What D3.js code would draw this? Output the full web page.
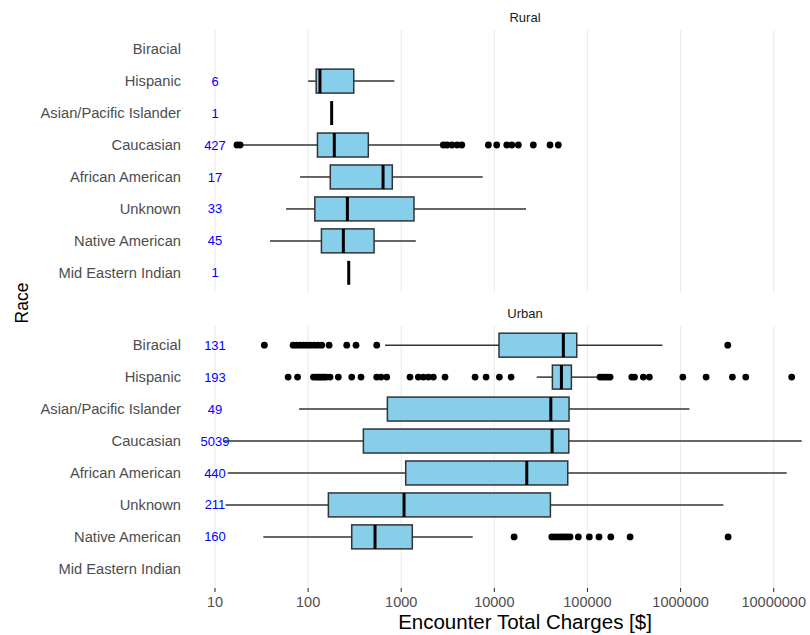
<!DOCTYPE html>
<html>
<head>
<meta charset="utf-8">
<script src="https://cdn.jsdelivr.net/npm/d3@7"></script>
<style>
  html, body { margin: 0; padding: 0; background: #ffffff; }
  svg { display: block; font-family: "Liberation Sans", Arial, Helvetica, sans-serif; }
</style>
</head>
<body>
<svg id="chart" width="810" height="635"></svg>
<script>
// ---------------- DATA ----------------
const categories = ["Biracial", "Hispanic", "Asian/Pacific Islander", "Caucasian",
                    "African American", "Unknown", "Native American", "Mid Eastern Indian"];
const panelNames = ["Rural", "Urban"];
const tickValues = [10, 100, 1000, 10000, 100000, 1000000, 10000000];
const tickLabels = ["10", "100", "1000", "10000", "100000", "1000000", "10000000"];

// Rural
const ruralCounts  = [null, 6, 1, 427, 17, 33, 45, 1];
const ruralLow     = [null, 100, 179, 20, 82, 58, 39, 273];
const ruralQ1      = [null, 122, 179, 126, 173, 118, 139, 273];
const ruralMedian  = [null, 134, 179, 191, 638, 264, 239, 273];
const ruralQ3      = [null, 309, 179, 443, 802, 1371, 511, 273];
const ruralHigh    = [null, 843, 179, 2720, 7500, 21900, 1432, 273];
const ruralOutliers = [
  [],
  [],
  [],
  [17.2, 18.6, 2830, 3100, 3500, 3980, 4470, 8630, 10600, 13600, 15400, 18100, 26200, 39600, 48600],
  [],
  [],
  [],
  []
];

// Urban
const urbanCounts  = [131, 193, 49, 5039, 440, 211, 160, null];
const urbanLow     = [670, 28500, 80, 12.2, 13.7, 13, 33, null];
const urbanQ1      = [11220, 42000, 710, 392, 1117, 165, 294, null];
const urbanMedian  = [55080, 52500, 40400, 41700, 22300, 1072, 523, null];
const urbanQ3      = [76700, 67200, 63400, 63000, 61400, 40000, 1315, null];
const urbanHigh    = [638000, 131000, 1245000, 20000000, 13800000, 2880000, 5860, null];
const urbanOutliers = [
  [33.9, 69, 75, 82, 89, 97, 106, 116, 127, 140, 168, 260, 327, 546, 3210000],
  [61, 77, 114, 121, 128, 134, 141, 148, 156, 172, 211, 294, 370, 545, 607, 699,
   1242, 1526, 1727, 1955, 2213, 2954, 6209, 8150, 11330, 15120,
   136400, 145000, 154500, 165000, 175000, 299000, 320000, 398000, 462000,
   1057000, 1880000, 3600000, 5010000, 15600000],
  [],
  [],
  [],
  [],
  [16300, 41400, 44900, 48300, 52000, 56100, 60400, 65000, 79800, 104700, 133000,
   178000, 287000, 3240000],
  []
];

// ---------------- BUILD ----------------
function buildPanel(counts, low, q1, med, q3, high, outl) {
  return categories.map((c, i) => ({
    cat: c, n: counts[i], low: low[i], q1: q1[i], med: med[i], q3: q3[i], high: high[i], out: outl[i]
  }));
}
const panelData = [
  buildPanel(ruralCounts, ruralLow, ruralQ1, ruralMedian, ruralQ3, ruralHigh, ruralOutliers),
  buildPanel(urbanCounts, urbanLow, urbanQ1, urbanMedian, urbanQ3, urbanHigh, urbanOutliers)
];

const svg = d3.select("#chart");
const x = d3.scaleLog().domain([10, 10000000]).range([215, 773.7]);
const panelLeft = 196, panelRight = 854;
const panelBoxes = [{top: 30, bottom: 292, stripY: 17}, {top: 326, bottom: 588, stripY: 313}];

const strokeCol = "#333333";

panelBoxes.forEach((pb, pi) => {
  const g = svg.append("g");
  const y = d3.scalePoint().domain(categories).range([pb.top, pb.bottom]).padding(0.6);
  const bh = y.step() * 0.75;

  // gridlines
  g.selectAll("line.grid").data(tickValues).join("line")
    .attr("x1", d => x(d)).attr("x2", d => x(d))
    .attr("y1", pb.top).attr("y2", pb.bottom)
    .attr("stroke", "#ebebeb").attr("stroke-width", 1.1);

  // strip title
  g.append("text").attr("x", (panelLeft + panelRight) / 2).attr("y", pb.stripY)
    .attr("dy", "0.35em").attr("text-anchor", "middle")
    .attr("font-size", 13).attr("fill", "#1a1a1a").text(panelNames[pi]);

  // category labels
  g.selectAll("text.cat").data(categories).join("text")
    .attr("x", 181).attr("y", d => y(d)).attr("dy", "0.35em")
    .attr("text-anchor", "end").attr("font-size", 14.7).attr("fill", "#4d4d4d")
    .text(d => d);

  const data = panelData[pi];

  // count labels
  g.selectAll("text.cnt").data(data.filter(d => d.n != null)).join("text")
    .attr("x", x(10)).attr("y", d => y(d.cat)).attr("dy", "0.35em")
    .attr("text-anchor", "middle").attr("font-size", 13).attr("fill", "#0000ff")
    .text(d => d.n);

  const bx = data.filter(d => d.med != null);

  // whiskers
  g.selectAll("line.wl").data(bx).join("line")
    .attr("x1", d => x(d.low)).attr("x2", d => x(d.q1))
    .attr("y1", d => y(d.cat)).attr("y2", d => y(d.cat))
    .attr("stroke", strokeCol).attr("stroke-width", 1.5);
  g.selectAll("line.wh").data(bx).join("line")
    .attr("x1", d => x(d.q3)).attr("x2", d => x(d.high))
    .attr("y1", d => y(d.cat)).attr("y2", d => y(d.cat))
    .attr("stroke", strokeCol).attr("stroke-width", 1.5);

  // boxes
  g.selectAll("rect.box").data(bx).join("rect")
    .attr("x", d => x(d.q1)).attr("width", d => x(d.q3) - x(d.q1))
    .attr("y", d => y(d.cat) - bh / 2).attr("height", bh)
    .attr("fill", "#87ceeb").attr("stroke", strokeCol).attr("stroke-width", 1.5);

  // medians
  g.selectAll("line.med").data(bx).join("line")
    .attr("x1", d => x(d.med)).attr("x2", d => x(d.med))
    .attr("y1", d => y(d.cat) - bh / 2).attr("y2", d => y(d.cat) + bh / 2)
    .attr("stroke", "#000000").attr("stroke-width", 3);

  // outliers
  const pts = [];
  data.forEach(d => d.out.forEach(v => pts.push({cat: d.cat, v})));
  g.selectAll("circle.out").data(pts).join("circle")
    .attr("cx", d => x(d.v)).attr("cy", d => y(d.cat)).attr("r", 3.4)
    .attr("fill", "#000000");
});

// x axis ticks and labels (bottom panel only)
const axisG = svg.append("g");
axisG.selectAll("line.tick").data(tickValues).join("line")
  .attr("x1", d => x(d)).attr("x2", d => x(d))
  .attr("y1", 588).attr("y2", 592)
  .attr("stroke", "#333333").attr("stroke-width", 1.1);
axisG.selectAll("text.tick").data(tickValues).join("text")
  .attr("x", d => x(d)).attr("y", 602).attr("dy", "0.35em")
  .attr("text-anchor", "middle").attr("font-size", 14.5).attr("fill", "#4d4d4d")
  .text((d, i) => tickLabels[i]);

// axis titles
svg.append("text").attr("x", (panelLeft + panelRight) / 2).attr("y", 622).attr("dy", "0.35em")
  .attr("text-anchor", "middle").attr("font-size", 20.5).attr("fill", "#000000")
  .text("Encounter Total Charges [$]");
svg.append("text").attr("transform", "translate(22,303) rotate(-90)")
  .attr("dy", "0.35em").attr("text-anchor", "middle")
  .attr("font-size", 17.5).attr("fill", "#000000").text("Race");
</script>
</body>
</html>
